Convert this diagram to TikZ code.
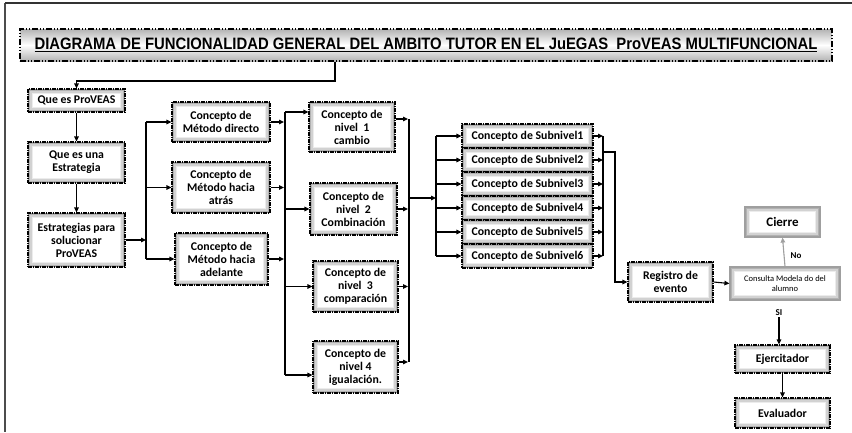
\documentclass[tikz,border=0pt]{standalone}
\usepackage{fontspec}
\setmainfont{Carlito}
\newfontfamily\titlefont[FakeStretch=0.9]{Liberation Sans}
\usetikzlibrary{arrows.meta}
\tikzset{
  shadowfill/.style={path picture={
    \fill[gray!85] (path picture bounding box.south west) rectangle (path picture bounding box.north east);
    \fill[gray!60] ([shift={(1.2pt,1.2pt)}]path picture bounding box.south west) rectangle ([shift={(-1.2pt,-1.2pt)}]path picture bounding box.north east);
    \fill[gray!35] ([shift={(2.4pt,2.4pt)}]path picture bounding box.south west) rectangle ([shift={(-2.4pt,-2.4pt)}]path picture bounding box.north east);
    \fill[gray!15] ([shift={(3.6pt,3.6pt)}]path picture bounding box.south west) rectangle ([shift={(-3.6pt,-3.6pt)}]path picture bounding box.north east);
    \fill[white] ([shift={(5pt,5pt)}]path picture bounding box.south west) rectangle ([shift={(-5pt,-5pt)}]path picture bounding box.north east);
  }},
  cbox/.style={shadowfill, draw=black, line width=1.1pt,
    dash pattern=on 4pt off 1pt on 1pt off 1pt, align=center,
    font=\bfseries\fontsize{11.8}{13}\selectfont, inner sep=1pt},
  gbox/.style={shadowfill, draw=gray!75, line width=1.2pt, align=center, inner sep=1pt},
  arr/.style={-{Triangle[length=5pt,width=4.5pt]}, line width=1.1pt},
  tarr/.style={-{Triangle[length=5pt,width=4.5pt]}, line width=2.2pt},
  bus/.style={line width=2.4pt},
  thin bus/.style={line width=1.1pt},
}
\begin{document}
\begin{tikzpicture}[x=1pt,y=-1pt]
\useasboundingbox (0,0) rectangle (852,432);
% frame
\draw[gray!60!black, line width=2pt] (5,3) -- (5,432);
\draw[black!80, line width=1.4pt] (5,3) -- (852,3);

% title
\node[draw=black, line width=1.6pt, dash pattern=on 6pt off 2pt on 1pt off 2pt on 1pt off 2pt,
  top color=gray!60, bottom color=gray!60, middle color=white,
  minimum width=812pt, minimum height=32pt, inner sep=0pt] (title) at (426,45)
  {\titlefont\bfseries\fontsize{16.5}{17}\selectfont\underline{DIAGRAMA DE FUNCIONALIDAD GENERAL DEL AMBITO TUTOR EN EL JuEGAS\ \ ProVEAS MULTIFUNCIONAL}};

% column 1
\node[cbox, minimum width=97pt, minimum height=23pt] (qp) at (76.5,100.5) {Que es ProVEAS};
\node[cbox, minimum width=97pt, minimum height=41pt] (qe) at (76.5,162.5) {Que es una\\Estrategia};
\node[cbox, minimum width=97pt, minimum height=54pt] (est) at (76.5,240) {Estrategias para\\solucionar\\ProVEAS};

% column 2
\node[cbox, minimum width=98pt, minimum height=40pt] (md) at (221,122) {Concepto de\\Método directo};
\node[cbox, minimum width=98pt, minimum height=51pt] (mat) at (221,187.5) {Concepto de\\Método hacia\\atrás};
\node[cbox, minimum width=93pt, minimum height=52pt] (ma) at (221.5,259) {Concepto de\\Método hacia\\adelante};

% column 3
\node[cbox, minimum width=86pt, minimum height=50pt] (n1) at (352,127) {Concepto de\\nivel\ \ 1\\cambio};
\node[cbox, minimum width=87pt, minimum height=52pt] (n2) at (353.5,209) {Concepto de\\nivel\ \ 2\\Combinación};
\node[cbox, minimum width=85pt, minimum height=51pt] (n3) at (355.5,286.5) {Concepto de\\nivel\ \ 3\\comparación};
\node[cbox, minimum width=85pt, minimum height=52pt] (n4) at (355.5,367) {Concepto de\\nivel 4\\igualación.};

% column 4
\node[cbox, minimum width=131pt, minimum height=24pt] (s1) at (527.5,136) {Concepto de Subnivel1};
\node[cbox, minimum width=131pt, minimum height=24pt] (s2) at (527.5,160) {Concepto de Subnivel2};
\node[cbox, minimum width=131pt, minimum height=24pt] (s3) at (527.5,184) {Concepto de Subnivel3};
\node[cbox, minimum width=131pt, minimum height=24pt] (s4) at (527.5,208) {Concepto de Subnivel4};
\node[cbox, minimum width=131pt, minimum height=24pt] (s5) at (527.5,232) {Concepto de Subnivel5};
\node[cbox, minimum width=131pt, minimum height=24pt] (s6) at (527.5,256) {Concepto de Subnivel6};

% right part
\node[cbox, minimum width=85pt, minimum height=40pt] (reg) at (670.5,282) {Registro de\\evento};
\node[gbox, minimum width=110pt, minimum height=33pt, font=\fontsize{8.5}{10.5}\selectfont] (con) at (785,283.5) {Consulta Modela do del\\alumno};
\node[gbox, minimum width=75pt, minimum height=30pt, font=\bfseries\fontsize{13}{14}\selectfont] (cie) at (782.5,222) {Cierre};
\node[cbox, minimum width=95pt, minimum height=28pt] (eje) at (782.5,359) {Ejercitador};
\node[cbox, minimum width=95pt, minimum height=30pt] (eva) at (782.5,413) {Evaluador};
\node[font=\bfseries\fontsize{9}{10}\selectfont] (no) at (796,256) {No};
\node[font=\bfseries\fontsize{9}{10}\selectfont, inner sep=1pt] (si) at (779,313) {SI};

% bus coordinates
\coordinate (tdrop) at (335,81);
\coordinate (b1a) at (146,122);
\coordinate (b1c) at (146,259);
\coordinate (b2a) at (285,112);
\coordinate (b2d) at (285,375);
\coordinate (b3a) at (409,119);
\coordinate (b3d) at (409,362);
\coordinate (j3) at (409,198);
\coordinate (b4a) at (436,136);
\coordinate (b4f) at (436,256);
\coordinate (b5a) at (603,136);
\coordinate (b5f) at (603,256);
\coordinate (j5) at (603,152);
\coordinate (b6) at (615,152);

% connectors
\draw[arr] (title.south -| tdrop) -- (tdrop) -| (qp.north);
\draw[arr] (qp.south) -- (qe.north);
\draw[arr] (qe.south) -- (est.north);
\draw[arr] (est.east) -- (est.east -| b1a);
\draw[thin bus] (b1a) -- (b1c);
\draw[arr] (b1a) -- (md.west);
\draw[arr] (b1a |- mat.west) -- (mat.west);
\draw[arr] (b1c) -- (ma.west);

\draw[arr] (md.east) -- ([xshift=-1pt]md.east -| b2a);
\draw[arr] (mat.east) -- ([xshift=-1pt]mat.east -| b2a);
\draw[arr] (ma.east) -- ([xshift=-1pt]ma.east -| b2a);
\draw[bus] (b2a) -- (b2d);
\draw[arr] (b2a) -- (b2a -| n1.west);
\draw[arr] (b2a |- n2.west) -- (n2.west);
\draw[arr] (b2a |- n3.west) -- (n3.west);
\draw[arr] (b2d) -- (b2d -| n4.west);

\draw[arr] (b3a -| n1.east) -- ([xshift=-1pt]b3a);
\draw[arr] (n2.east) -- ([xshift=-1pt]n2.east -| b3a);
\draw[arr] (n3.east) -- ([xshift=-1pt]n3.east -| b3a);
\draw[arr] (b3d -| n4.east) -- ([xshift=-1pt]b3d);
\draw[bus] (b3a) -- (b3d);
\draw[arr] (j3) -- (j3 -| b4a);

\draw[thin bus] (b4a) -- (b4f);
\foreach \s in {s1,s2,s3,s4,s5,s6} {
  \draw[arr] (b4a |- \s.west) -- (\s.west);
  \draw[arr] (\s.east) -- (\s.east -| b5a);
}
\draw[thin bus] (b5a) -- (b5f);
\draw[tarr] (j5) -- (b6) |- (reg.west);
\draw[arr] (reg.east) -- (con.west);
\draw[arr, draw=gray!75, fill=gray!75] (con.north) -- (cie.south);
\draw[arr] (si.south) -- (si.south |- eje.north);
\draw[arr] (eje.south) -- (eva.north);
\end{tikzpicture}
\end{document}
